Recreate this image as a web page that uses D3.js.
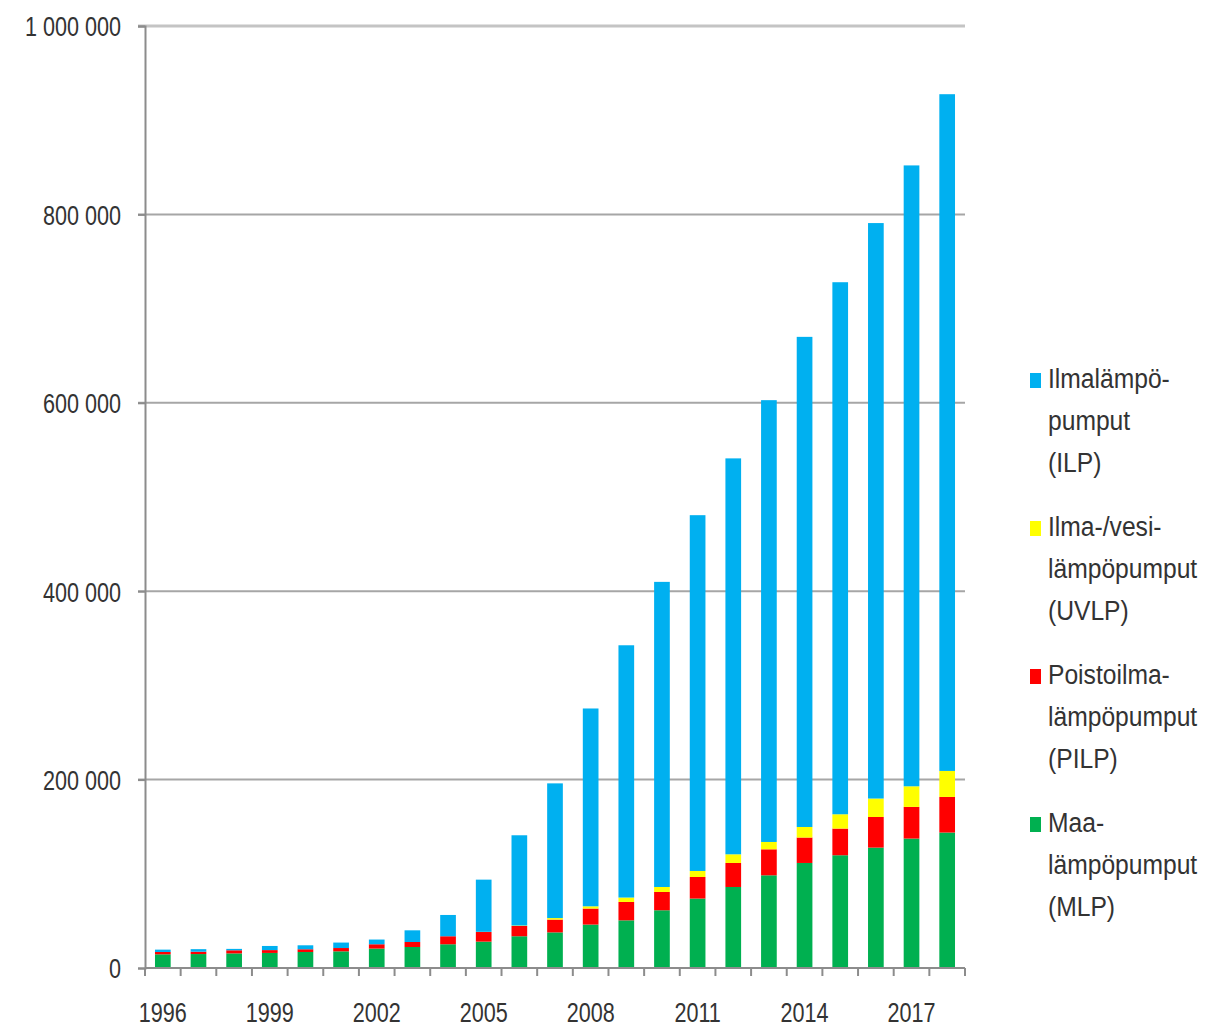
<!DOCTYPE html>
<html>
<head>
<meta charset="utf-8">
<script src="https://cdn.jsdelivr.net/npm/d3@7"></script>
<style>
  body { margin: 0; background: #fff; }
</style>
</head>
<body>
<script>
const w = 1219;
const h = 1027;

// data (thousands of units)
const years = d3.range(1996, 2019).map(String);
const mlp  = [14.5, 14.8, 15.5, 16.0, 17.0, 17.7, 20.6, 22.3, 25.2, 28.0, 33.7, 37.8, 46.1, 50.6, 61.3, 73.7, 86.0, 98.4, 111.5, 119.7, 127.8, 137.4, 143.8];
const pilp = [2.5, 2.5, 3.3, 3.0, 2.9, 3.5, 4.6, 5.3, 8.5, 10.2, 10.9, 13.6, 17.0, 19.5, 19.4, 22.9, 25.5, 27.6, 27.0, 28.3, 32.5, 33.6, 37.8];
const uvlp = [0, 0, 0, 0, 0, 0, 0, 0, 0, 0.2, 0.5, 1.6, 2.4, 4.7, 5.3, 6.4, 9.2, 7.8, 11.2, 15.2, 19.6, 21.9, 27.6];
const ilp  = [2.5, 2.7, 1.5, 4.4, 4.2, 5.8, 5.0, 12.4, 22.6, 55.4, 95.8, 143.0, 210.0, 267.8, 323.9, 377.7, 420.3, 469.0, 520.3, 564.8, 610.9, 659.1, 718.4];
const yTicks = [0, 200000, 400000, 600000, 800000, 1000000];
const xLabels = ["1996", "1999", "2002", "2005", "2008", "2011", "2014", "2017"];

const seriesKeys = ["MLP", "PILP", "UVLP", "ILP"];
const colors = { MLP: "#00b050", PILP: "#ff0000", UVLP: "#ffff00", ILP: "#00b0f0" };
const legendItems = [
  { key: "ILP", lines: ["Ilmalämpö-", "pumput", "(ILP)"] },
  { key: "UVLP", lines: ["Ilma-/vesi-", "lämpöpumput", "(UVLP)"] },
  { key: "PILP", lines: ["Poistoilma-", "lämpöpumput", "(PILP)"] },
  { key: "MLP", lines: ["Maa-", "lämpöpumput", "(MLP)"] }
];

const table = years.map((y, i) => ({
  year: y, MLP: mlp[i] * 1000, PILP: pilp[i] * 1000, UVLP: uvlp[i] * 1000, ILP: ilp[i] * 1000
}));

const mLeft = 145, mRight = 965, mTop = 26, mBottom = 968;
const font = "'Liberation Sans', Arial, sans-serif";
const squeeze = 0.8;   // text in the original is horizontally condensed

const svg = d3.select("body").append("svg")
  .attr("width", w)
  .attr("height", h);

const x = d3.scaleBand()
  .domain(years)
  .range([mLeft, mRight])
  .paddingInner(0.56)
  .paddingOuter(0.28);

const y = d3.scaleLinear()
  .domain([0, 1000000])
  .range([mBottom, mTop]);

const fmt = v => d3.format(",")(v).replace(/,/g, " ");

// gridlines
svg.append("g")
  .selectAll("line")
  .data(yTicks.filter(d => d > 0))
  .join("line")
  .attr("x1", mLeft - 7)
  .attr("x2", mRight)
  .attr("y1", d => y(d))
  .attr("y2", d => y(d))
  .attr("stroke", d => d === 1000000 ? "#c4c4c4" : "#a6a6a6")
  .attr("stroke-width", d => d === 1000000 ? 3 : 2);

// y axis
const yAxis = svg.append("g")
  .attr("transform", "translate(" + mLeft + ",0)")
  .call(d3.axisLeft(y).tickValues(yTicks).tickFormat(fmt).tickSize(7));
yAxis.select(".domain").attr("stroke", "#8c8c8c").attr("stroke-width", 2);
yAxis.selectAll(".tick line").attr("stroke", "#8c8c8c").attr("stroke-width", 2);
yAxis.selectAll("text")
  .attr("x", -24 / squeeze)
  .attr("dy", "0.37em")
  .attr("transform", "scale(" + squeeze + ",1)")
  .attr("font-family", font)
  .attr("font-size", 27)
  .attr("fill", "#333");

// stacked bars
const stacked = d3.stack().keys(seriesKeys)(table);
svg.append("g")
  .selectAll("g")
  .data(stacked)
  .join("g")
  .attr("fill", d => colors[d.key])
  .selectAll("rect")
  .data(d => d)
  .join("rect")
  .attr("x", d => x(d.data.year))
  .attr("width", x.bandwidth())
  .attr("y", d => y(d[1]))
  .attr("height", d => y(d[0]) - y(d[1]));

// x axis
const gap = (x.step() - x.bandwidth()) / 2;
const xg = svg.append("g");
xg.append("line")
  .attr("x1", mLeft).attr("x2", mRight)
  .attr("y1", mBottom).attr("y2", mBottom)
  .attr("stroke", "#8c8c8c").attr("stroke-width", 2);
xg.selectAll("line.tk")
  .data(years.concat(["end"]))
  .join("line")
  .attr("class", "tk")
  .attr("x1", d => d === "end" ? mRight : x(d) - gap)
  .attr("x2", d => d === "end" ? mRight : x(d) - gap)
  .attr("y1", mBottom)
  .attr("y2", mBottom + 8)
  .attr("stroke", "#8c8c8c").attr("stroke-width", 2);
xg.selectAll("text")
  .data(xLabels)
  .join("text")
  .attr("transform", d => "translate(" + (x(d) + x.bandwidth() / 2) + ",1022) scale(" + squeeze + ",1)")
  .attr("text-anchor", "middle")
  .attr("font-family", font)
  .attr("font-size", 27)
  .attr("fill", "#333")
  .text(d => d);

// legend
const lg = svg.append("g");
legendItems.forEach((item, i) => {
  const y0 = 388 + i * 148;
  lg.append("rect")
    .attr("x", 1030).attr("y", y0 - 15)
    .attr("width", 11).attr("height", 15)
    .attr("fill", colors[item.key]);
  item.lines.forEach((t, j) => {
    lg.append("text")
      .attr("transform", "translate(1048," + (y0 + j * 42) + ") scale(0.88,1)")
      .attr("font-family", font)
      .attr("font-size", 28)
      .attr("fill", "#333")
      .text(t);
  });
});
</script>
</body>
</html>
